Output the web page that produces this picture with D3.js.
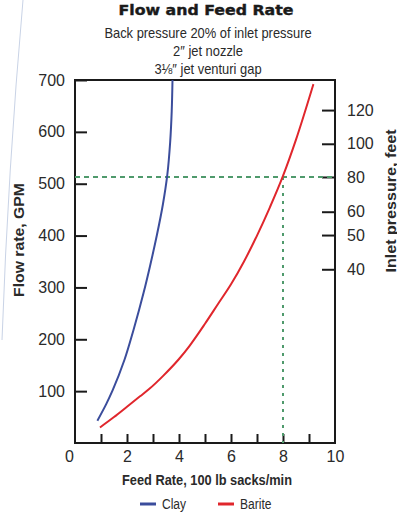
<!DOCTYPE html>
<html>
<head>
<meta charset="utf-8">
<script src="https://cdn.jsdelivr.net/npm/d3@7"></script>
<style>
  body { margin: 0; background: #fff; }
  svg { display: block; }
  text { font-family: "Liberation Sans", Arial, sans-serif; fill: #2a2a2a; }
</style>
</head>
<body>
<div id="chart"></div>
<script>
// values
const clay = [
  [0.86, 43], [1.2, 75], [1.45, 102], [1.9, 160], [2.25, 218], [2.64, 290],
  [2.88, 340], [3.15, 401], [3.38, 460], [3.55, 517], [3.66, 580], [3.72, 640], [3.75, 700]
];
const barite = [
  [0.96, 30], [1.5, 50], [2.0, 70], [2.5, 90], [2.85, 104], [3.4, 130], [4.0, 162],
  [4.4, 187], [5.0, 230], [5.5, 268], [6.0, 306], [6.5, 350], [7.0, 400], [7.5, 455],
  [8.0, 515], [8.5, 585], [9.17, 692]
];
const flowTicks = [100, 200, 300, 400, 500, 600, 700];
const feedMinor = [1, 2, 3, 4, 5, 6, 7, 8, 9];
const feedLabels = [0, 2, 4, 6, 8, 10];
// inlet pressure (feet) and the flow rate it sits at on the left scale
const pressureLabels = [40, 50, 60, 80, 100, 120];
const pressureFlow = [335, 401, 446, 513, 577, 642];
const marker = { feed: 8, flow: 513 };
const titles = {
  main: "Flow and Feed Rate",
  sub: ["Back pressure 20% of inlet pressure", "2\u2033 jet nozzle", "3\u215B\u2033 jet venturi gap"],
  x: "Feed Rate, 100 lb sacks/min",
  y: "Flow rate, GPM",
  y2: "Inlet pressure, feet"
};
const seriesNames = ["Clay", "Barite"];
const colors = ["#3b4d9c", "#e0262c"];

const width = 397, height = 516;
const margin = { top: 80, right: 62, bottom: 73, left: 75 };

// squeeze a text horizontally, the reference uses a condensed face
function condense(sel, k) {
  sel.each(function() {
    const w = this.getComputedTextLength();
    d3.select(this).attr("textLength", w * k).attr("lengthAdjust", "spacingAndGlyphs");
  });
}

const svg = d3.select("#chart").append("svg")
  .attr("width", width)
  .attr("height", height);

// faint page edge on the left
svg.append("path")
  .attr("d", "M23,0 Q8,170 2,340")
  .attr("fill", "none")
  .attr("stroke", "#c9d3e6")
  .attr("stroke-width", 1);

const x = d3.scaleLinear().domain([0, 10]).range([margin.left, width - margin.right]);
const y = d3.scaleLinear().domain([0, 700]).range([height - margin.bottom, margin.top]);

// titles
svg.append("text")
  .attr("x", 206).attr("y", 15)
  .attr("text-anchor", "middle")
  .attr("textLength", 175)
  .attr("lengthAdjust", "spacingAndGlyphs")
  .style("font-family", "'DejaVu Sans', sans-serif")
  .style("font-weight", "bold")
  .style("font-size", "14px")
  .style("fill", "#1a1a1a")
  .style("stroke", "#1a1a1a")
  .style("stroke-width", 0.4)
  .text(titles.main);

svg.selectAll(".sub")
  .data(titles.sub)
  .enter().append("text")
  .attr("class", "sub")
  .attr("x", 208)
  .attr("y", (d, i) => 38 + i * 18)
  .attr("text-anchor", "middle")
  .style("font-size", "15px")
  .text(d => d)
  .call(condense, 0.86);

// left axis, ticks pointing in
const yAxis = d3.axisLeft(y).tickValues(flowTicks).tickSizeInner(-12).tickSizeOuter(0).tickPadding(10);
svg.append("g")
  .attr("transform", `translate(${margin.left},0)`)
  .call(yAxis);

// bottom axis: minor ticks, then labels
const xAxis = d3.axisBottom(x).tickValues(feedMinor).tickSizeInner(-9).tickSizeOuter(0).tickFormat("");
svg.append("g")
  .attr("transform", `translate(0,${height - margin.bottom})`)
  .call(xAxis);

const xLab = d3.axisBottom(x).tickValues(feedLabels).tickSize(0).tickPadding(8);
const gxl = svg.append("g")
  .attr("transform", `translate(0,${height - margin.bottom})`)
  .call(xLab);
gxl.selectAll(".tick text").filter(d => d === 0).attr("dx", -6);

// right axis for inlet pressure
const y2Axis = d3.axisRight(y).tickValues(pressureFlow).tickSizeInner(-13).tickSizeOuter(0).tickPadding(12)
  .tickFormat((d, i) => pressureLabels[i]);
svg.append("g")
  .attr("transform", `translate(${width - margin.right},0)`)
  .call(y2Axis);

svg.selectAll(".domain").remove();
svg.selectAll(".tick line").attr("stroke", "#1a1a1a").attr("stroke-width", 2);
svg.selectAll(".tick text")
  .style("font-size", "16px")
  .style("font-family", "'Liberation Sans', Arial, sans-serif")
  .attr("fill", "#3a3a3a");

// frame
svg.append("rect")
  .attr("x", x(0)).attr("y", y(700))
  .attr("width", x(10) - x(0)).attr("height", y(0) - y(700))
  .attr("fill", "none")
  .attr("stroke", "#1a1a1a")
  .attr("stroke-width", 2);

// green guide lines
svg.append("line")
  .attr("x1", x(0)).attr("x2", x(10))
  .attr("y1", y(marker.flow)).attr("y2", y(marker.flow))
  .attr("stroke", "#4f9a6c").attr("stroke-width", 2)
  .attr("stroke-dasharray", "5,4");
svg.append("line")
  .attr("x1", x(marker.feed)).attr("x2", x(marker.feed))
  .attr("y1", y(marker.flow)).attr("y2", y(0))
  .attr("stroke", "#4f9a6c").attr("stroke-width", 2)
  .attr("stroke-dasharray", "3,5");

// curves
const clayLine = d3.line()
  .x(d => x(d[0]))
  .y(d => y(d[1]))
  .curve(d3.curveMonotoneY);
const bariteLine = d3.line()
  .x(d => x(d[0]))
  .y(d => y(d[1]))
  .curve(d3.curveMonotoneX);

svg.append("path")
  .datum(clay)
  .attr("d", clayLine)
  .attr("fill", "none")
  .attr("stroke", colors[0])
  .attr("stroke-width", 2);

svg.append("path")
  .datum(barite)
  .attr("d", bariteLine)
  .attr("fill", "none")
  .attr("stroke", colors[1])
  .attr("stroke-width", 2);

// axis titles
svg.append("text")
  .attr("x", 207).attr("y", 485)
  .attr("text-anchor", "middle")
  .attr("textLength", 170)
  .attr("lengthAdjust", "spacingAndGlyphs")
  .style("font-weight", "bold")
  .style("font-size", "14px")
  .text(titles.x);

svg.append("text")
  .attr("transform", "translate(24,240) rotate(-90)")
  .attr("text-anchor", "middle")
  .attr("textLength", 114)
  .attr("lengthAdjust", "spacingAndGlyphs")
  .style("font-weight", "bold")
  .style("font-size", "15px")
  .text(titles.y);

svg.append("text")
  .attr("transform", "translate(396,201) rotate(-90)")
  .attr("text-anchor", "middle")
  .attr("textLength", 143)
  .attr("lengthAdjust", "spacingAndGlyphs")
  .style("font-weight", "bold")
  .style("font-size", "15px")
  .text(titles.y2);

// legend
const legendX = [140, 218];
const lg = svg.selectAll(".legend")
  .data(seriesNames)
  .enter().append("g")
  .attr("class", "legend")
  .attr("transform", (d, i) => `translate(${legendX[i]},504)`);
lg.append("line")
  .attr("x1", 0).attr("x2", 16)
  .attr("stroke", (d, i) => colors[i])
  .attr("stroke-width", 3);
lg.append("text")
  .attr("x", 22).attr("y", 5)
  .style("font-size", "14px")
  .text(d => d)
  .call(condense, 0.86);
</script>
</body>
</html>
